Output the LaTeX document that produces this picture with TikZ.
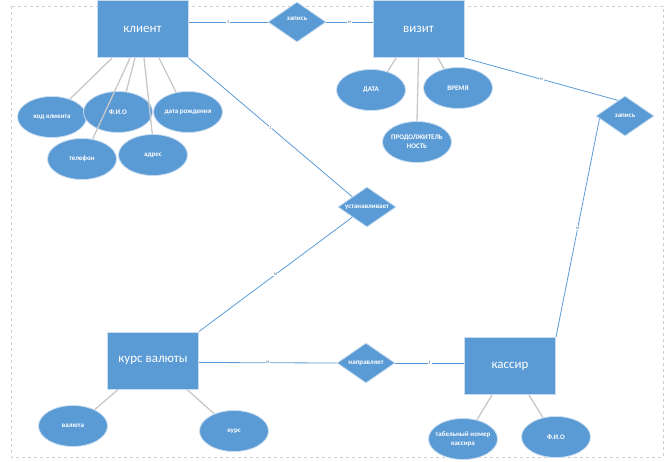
\documentclass[tikz,border=0pt]{standalone}
\usepackage{fontspec}
\setmainfont{Carlito}
\usetikzlibrary{shapes.geometric}
\definecolor{eblue}{HTML}{5B9BD5}
\definecolor{eedge}{HTML}{C9DDF0}
\definecolor{attrc}{HTML}{C8C8C8}
\definecolor{framec}{HTML}{D0D0D0}
\definecolor{lblc}{HTML}{5B7FA8}
\begin{document}
\begin{tikzpicture}[x=1pt,y=-1pt,
 entity/.style={rectangle,fill=eblue,draw=eedge,line width=1pt,minimum width=91pt,minimum height=57pt,inner sep=0pt,text=white,font=\fontsize{13}{15}\selectfont},
 attrib/.style={ellipse,fill=eblue,draw=eedge,line width=0.8pt,minimum width=69pt,minimum height=41pt,inner sep=-10pt,text=white,font=\bfseries\fontsize{7}{9}\selectfont,align=center},
 rel/.style={diamond,fill=eblue,draw=eedge,line width=0.8pt,minimum width=58pt,minimum height=40pt,inner sep=0pt},
 rtext/.style={text=white,font=\bfseries\fontsize{7}{8}\selectfont},
 aline/.style={draw=attrc,line width=1.3pt},
 cline/.style={draw=eblue,line width=0.8pt},
 card/.style={fill=white,text=lblc,inner sep=0.6pt,font=\fontsize{5}{5.5}\selectfont},
]
\useasboundingbox (0,0) rectangle (671,462);
\draw[framec,dashed,line width=0.6pt] (11,6) rectangle (663,457);

% entities
\node[entity] (klient) at (142.5,29) {клиент};
\node[entity] (vizit) at (418.5,29) {визит};
\node[entity] (kurs) at (153,360.5) {курс валюты};
\node[entity] (kassir) at (510,366) {кассир};

% relationships
\node[rel,label={[rtext,yshift=3pt]center:запись}] (zap1) at (297,22) {};
\node[rel,label={[rtext]center:запись}] (zap2) at (625,116) {};
\node[rel,label={[rtext]center:устанавливает}] (ustan) at (367,207) {};
\node[rel,label={[rtext]center:направляет}] (naprav) at (366,363) {};

% attributes
\node[attrib] (kod) at (52,117) {код клиента};
\node[attrib] (fio) at (118,112) {Ф.И.О};
\node[attrib] (dr) at (188,112) {дата рождения};
\node[attrib] (tel) at (82,159) {телефон};
\node[attrib] (adr) at (153,155) {адрес};
\node[attrib] (data) at (371,90) {ДАТА};
\node[attrib] (vrem) at (458,88) {ВРЕМЯ};
\node[attrib] (prod) at (417,142) {ПРОДОЛЖИТЕЛЬ\\НОСТЬ};
\node[attrib] (val) at (73,426) {валюта};
\node[attrib] (kursa) at (234,431) {курс};
\node[attrib] (tab) at (463,439) {табельный номер\\кассира};
\node[attrib] (fio2) at (556,437) {Ф.И.О};

% attribute lines
\draw[aline] ([xshift=-30.5pt]klient.south) -- (kod.45);
\draw[aline] ([xshift=-7.5pt]klient.south) -- (fio.68);
\draw[aline] ([xshift=-12.5pt]klient.south) -- (tel.62);
\draw[aline] ([xshift=1.5pt]klient.south) -- (adr.92);
\draw[aline] ([xshift=16.5pt]klient.south) -- (dr.121);
\draw[aline] ([xshift=-22.5pt]vizit.south) -- (data.48);
\draw[aline] (vizit.south) -- (prod.north);
\draw[aline] ([xshift=19.5pt]vizit.south) -- (vrem.126);
\draw[aline] ([xshift=-35pt]kurs.south) -- (val.37);
\draw[aline] ([xshift=34pt]kurs.south) -- (kursa.139);
\draw[aline] ([xshift=-18pt]kassir.south) -- (tab.54);
\draw[aline] ([xshift=19pt]kassir.south) -- (fio2.124);

% relationship connectors
\draw[cline] ([yshift=7pt]klient.east) -- node[card]{1} (zap1.west);
\draw[cline] (zap1.east) -- node[card]{м} ([yshift=7pt]vizit.west);
\draw[cline] (vizit.south east) -- node[card]{м} (zap2.114);
\draw[cline] (zap2.186) -- node[card]{м} (kassir.north east);
\draw[cline] (klient.south east) -- node[card]{1} (ustan.north west);
\draw[cline] (ustan.south west) -- node[card]{м} (kurs.north east);
\draw[cline] ([yshift=-2pt]kurs.east) -- node[card]{м} (naprav.west);
\draw[cline] (naprav.east) -- node[card]{1} ([yshift=3pt]kassir.west);
\end{tikzpicture}
\end{document}
